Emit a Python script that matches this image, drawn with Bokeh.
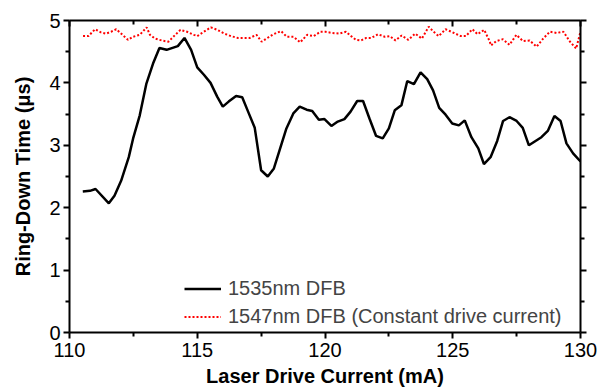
from bokeh.plotting import figure
from bokeh.models import LinearAxis, Range1d, Legend, LegendItem, FixedTicker
from bokeh.embed import file_html
from bokeh.resources import INLINE

# 1535nm DFB (black)
bx = [110.52, 110.8, 111.02, 111.54, 111.76, 112.02, 112.32, 112.49, 112.75, 113.01,
      113.27, 113.52, 113.80, 114.24, 114.50, 114.76, 115.0, 115.26, 115.52, 115.78,
      116.0, 116.23, 116.52, 116.76, 116.99, 117.25, 117.5, 117.76, 118.0, 118.26,
      118.49, 118.76, 119.01, 119.28, 119.50, 119.76, 119.98, 120.25, 120.50, 120.76,
      121.0, 121.26, 121.49, 121.74, 122.0, 122.26, 122.50, 122.73, 122.99, 123.22,
      123.48, 123.74, 124.0, 124.23, 124.47, 124.72, 124.98, 125.24, 125.47, 125.73,
      126.0, 126.22, 126.48, 126.74, 126.97, 127.22, 127.50, 127.74, 127.98, 128.24,
      128.47, 128.72, 128.98, 129.22, 129.45, 129.71, 130.0]
by = [2.26, 2.27, 2.30, 2.07, 2.19, 2.43, 2.81, 3.11, 3.48, 3.99,
      4.31, 4.56, 4.53, 4.59, 4.72, 4.53, 4.25, 4.13, 4.0, 3.78,
      3.62, 3.70, 3.79, 3.77, 3.54, 3.28, 2.60, 2.50, 2.63, 2.97,
      3.27, 3.51, 3.62, 3.57, 3.55, 3.41, 3.42, 3.31, 3.38, 3.42,
      3.54, 3.71, 3.71, 3.43, 3.15, 3.11, 3.27, 3.56, 3.64, 4.03,
      3.98, 4.17, 4.06, 3.88, 3.60, 3.49, 3.35, 3.32, 3.40, 3.13,
      2.95, 2.70, 2.81, 3.07, 3.39, 3.45, 3.39, 3.28, 3.00, 3.07,
      3.13, 3.23, 3.47, 3.39, 3.03, 2.87, 2.74]

# 1547nm DFB constant drive current (red dotted)
rx = [110.53, 110.74, 111.0, 111.23, 111.43, 111.63, 111.83, 112.02, 112.29, 112.49,
      112.75, 113.02, 113.15, 113.35, 113.61, 113.87, 114.14, 114.34, 114.60, 114.87,
      115.0, 115.26, 115.53, 115.79, 116.06, 116.32, 116.59, 116.85, 117.05, 117.32,
      117.52, 117.71, 117.98, 118.28, 118.50, 118.77, 119.03, 119.30, 119.56, 119.82,
      120.02, 120.29, 120.55, 120.82, 121.02, 121.21, 121.41, 121.61, 121.81, 122.07,
      122.34, 122.54, 122.76, 123.0, 123.26, 123.53, 123.79, 124.06, 124.25, 124.45,
      124.72, 125.05, 125.31, 125.51, 125.77, 125.97, 126.23, 126.43, 126.50, 126.70,
      126.96, 127.22, 127.49, 127.75, 128.01, 128.28, 128.54, 128.80, 129.06, 129.33,
      129.59, 129.83, 130.0]
ry = [4.75, 4.75, 4.86, 4.81, 4.79, 4.82, 4.86, 4.79, 4.69, 4.74,
      4.77, 4.89, 4.77, 4.71, 4.68, 4.66, 4.77, 4.85, 4.82, 4.77,
      4.75, 4.82, 4.89, 4.85, 4.79, 4.75, 4.72, 4.72, 4.72, 4.77,
      4.66, 4.71, 4.78, 4.83, 4.74, 4.74, 4.65, 4.77, 4.75, 4.82,
      4.82, 4.80, 4.79, 4.82, 4.75, 4.69, 4.68, 4.72, 4.72, 4.78,
      4.74, 4.75, 4.68, 4.76, 4.69, 4.79, 4.71, 4.90, 4.82, 4.75,
      4.86, 4.80, 4.75, 4.75, 4.86, 4.78, 4.85, 4.68, 4.60, 4.67,
      4.70, 4.61, 4.77, 4.67, 4.68, 4.58, 4.71, 4.82, 4.80, 4.82,
      4.66, 4.55, 4.82]

x_ticks = [110, 115, 120, 125, 130]
x_minor = [112.5, 117.5, 122.5, 127.5]
y_ticks = [0, 1, 2, 3, 4, 5]
y_minor = [0.5, 1.5, 2.5, 3.5, 4.5]

series_names = ["1535nm DFB", "1547nm DFB (Constant drive current)"]
x_label = "Laser Drive Current (mA)"
y_label = "Ring-Down Time (\u03bcs)"

FONT = "Liberation Sans"

p = figure(width=597, height=390, output_backend="svg", toolbar_location=None,
           x_range=Range1d(110, 130), y_range=Range1d(0, 5),
           min_border_left=69, min_border_right=17, min_border_top=20, min_border_bottom=58,
           x_axis_location=None, y_axis_location=None)
p.grid.visible = False
p.outline_line_color = None
p.background_fill_color = "white"
p.border_fill_color = "white"


def style_axis(ax, labels=True, tick_in=False):
    ax.axis_line_width = 2
    ax.axis_line_color = "black"
    ax.major_tick_line_width = 2
    ax.minor_tick_line_width = 2
    if tick_in:
        ax.major_tick_in = 6
        ax.major_tick_out = 0
        ax.minor_tick_in = 4
        ax.minor_tick_out = 0
    else:
        ax.major_tick_in = 0
        ax.major_tick_out = 6
        ax.minor_tick_in = 0
        ax.minor_tick_out = 4
    ax.major_label_text_font = FONT
    ax.major_label_text_font_size = "20px"
    ax.major_label_text_color = "black"
    ax.axis_label_text_font = FONT
    ax.axis_label_text_font_size = "20px"
    ax.axis_label_text_font_style = "bold"
    ax.axis_label_text_color = "black"
    if not labels:
        ax.major_label_text_font_size = "1px"
        ax.major_label_text_color = None
        ax.major_label_text_alpha = 0


xb = LinearAxis(axis_label=x_label)
xt = LinearAxis()
yl = LinearAxis(axis_label=y_label)
yr = LinearAxis()
for ax in (xb, xt):
    style_axis(ax, labels=(ax is xb), tick_in=(ax is xt))
    ax.ticker = FixedTicker(ticks=x_ticks, minor_ticks=x_minor)
for ax in (yl, yr):
    style_axis(ax, labels=(ax is yl))
    ax.ticker = FixedTicker(ticks=y_ticks, minor_ticks=y_minor)
xb.major_label_standoff = 4
xb.axis_label_standoff = 5
yl.major_label_standoff = 3
yl.axis_label_standoff = 12

p.add_layout(xb, "below")
p.add_layout(xt, "above")
p.add_layout(yl, "left")
p.add_layout(yr, "right")

r1 = p.line(bx, by, line_color="black", line_width=2.5)
r2 = p.line(rx, ry, line_color="red", line_width=2, line_dash="2 2")

legend = Legend(items=[LegendItem(label=series_names[0], renderers=[r1]),
                       LegendItem(label=series_names[1], renderers=[r2])],
                location=(115, 4), orientation="vertical",
                border_line_color=None, background_fill_alpha=0,
                padding=0, margin=0, spacing=5, label_height=21,
                glyph_width=37, glyph_height=21, label_standoff=7,
                label_text_font=FONT, label_text_font_size="20px")
p.add_layout(legend, "center")

open("out.html", "w").write(file_html(p, INLINE))
